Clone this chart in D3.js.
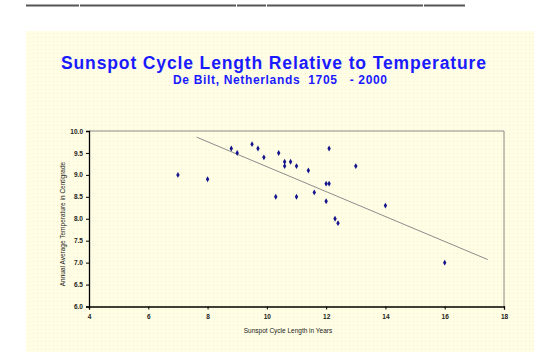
<!DOCTYPE html>
<html>
<head>
<meta charset="utf-8">
<script src="https://cdn.jsdelivr.net/npm/d3@7"></script>
<style>
body { margin: 0; background: #fff; }
svg { display: block; font-family: "Liberation Sans", Arial, sans-serif; }
</style>
</head>
<body>
<div id="chart"></div>
<script>
var width = 554,
	height = 361;

// cycle length (years) vs annual mean temperature (C)
var cycleLength = [7.0, 8.0, 8.8, 9.0, 9.5, 9.7, 9.9, 10.3, 10.4, 10.6, 10.6, 10.8, 11.0, 11.0,
	11.4, 11.6, 12.0, 12.1, 12.1, 12.0, 12.3, 12.4, 13.0, 14.0, 16.0];
var temperature = [9.0, 8.9, 9.6, 9.5, 9.7, 9.6, 9.4, 8.5, 9.5, 9.3, 9.2, 9.3, 9.2, 8.5,
	9.1, 8.6, 8.8, 8.8, 9.6, 8.4, 8.0, 7.9, 9.2, 8.3, 7.0];

// trendline as drawn in the original (ends)
var trendX = [7.63, 17.45];
var trendY = [9.86, 7.07];

var xTicks = [4, 6, 8, 10, 12, 14, 16, 18];
var yTicks = [6.0, 6.5, 7.0, 7.5, 8.0, 8.5, 9.0, 9.5, 10.0];

var titleText = "Sunspot Cycle Length Relative to Temperature";
var subText = "De Bilt, Netherlands  1705   - 2000";

var svg = d3.select("#chart")
	.append("svg")
	.attr("width", width)
	.attr("height", height);

// dotted paper texture
var pat = svg.append("defs").append("pattern")
	.attr("id", "dots")
	.attr("width", 4)
	.attr("height", 4)
	.attr("patternUnits", "userSpaceOnUse");
pat.append("rect").attr("width", 4).attr("height", 4).attr("fill", "#fffde3");
pat.append("rect").attr("x", 1).attr("y", 1).attr("width", 1).attr("height", 1).attr("fill", "#f3efd3");

// rule at the very top
var ruleBreaks = [25, 79, 236, 266, 423, 465];
for (var i = 0; i < ruleBreaks.length - 1; i++) {
	svg.append("line")
		.attr("x1", ruleBreaks[i] + 1)
		.attr("x2", ruleBreaks[i + 1])
		.attr("y1", 5.5)
		.attr("y2", 5.5)
		.attr("stroke", "#555")
		.attr("stroke-width", 2);
}

svg.append("rect")
	.attr("x", 26)
	.attr("y", 31)
	.attr("width", 508)
	.attr("height", 321)
	.attr("fill", "url(#dots)");

svg.append("text")
	.attr("x", 273.5)
	.attr("y", 69)
	.attr("text-anchor", "middle")
	.attr("font-size", 17.5)
	.attr("font-weight", "bold")
	.attr("fill", "#1a1aff")
	.attr("textLength", 425)
	.text(titleText);

svg.append("text")
	.attr("x", 280)
	.attr("y", 84)
	.attr("text-anchor", "middle")
	.attr("font-size", 12)
	.attr("font-weight", "bold")
	.attr("fill", "#1a1aff")
	.attr("textLength", 214)
	.style("white-space", "pre")
	.text(subText);

var plotLeft = 89, plotRight = 504, plotTop = 131, plotBottom = 306.5;

var x = d3.scaleLinear().domain([4, 18]).range([plotLeft, plotRight]);
var y = d3.scaleLinear().domain([6, 10]).range([plotBottom, plotTop]);

// plot area frame (grey top & right)
svg.append("path")
	.attr("d", "M" + plotLeft + "," + plotTop + "H" + plotRight + "V" + plotBottom)
	.attr("fill", "none")
	.attr("stroke", "#8a8a8a")
	.attr("stroke-width", 1);

var xAxis = svg.append("g")
	.attr("transform", "translate(0," + plotBottom + ")")
	.call(d3.axisBottom(x).tickValues(xTicks).tickSize(3).tickPadding(5).tickFormat(d3.format("d")));

var yAxis = svg.append("g")
	.attr("transform", "translate(" + plotLeft + ",0)")
	.call(d3.axisLeft(y).tickValues(yTicks).tickSize(3).tickPadding(3).tickFormat(d3.format(".1f")));

[xAxis, yAxis].forEach(function(g) {
	g.select(".domain").attr("stroke", "#000").attr("stroke-width", 1.3);
	g.selectAll(".tick line").attr("stroke", "#000");
	g.selectAll("text")
		.attr("font-family", "\"Liberation Sans\", Arial, sans-serif")
		.attr("font-size", 6.5)
		.attr("font-weight", "bold")
		.attr("fill", "#222");
});

svg.append("text")
	.attr("x", 288)
	.attr("y", 333)
	.attr("text-anchor", "middle")
	.attr("font-size", 6.5)
	.attr("fill", "#222")
	.text("Sunspot Cycle Length in Years");

svg.append("text")
	.attr("transform", "translate(65,224) rotate(-90)")
	.attr("text-anchor", "middle")
	.attr("font-size", 6.5)
	.attr("fill", "#222")
	.text("Annual Average Temperature in Centigrade");

// trendline
svg.append("line")
	.attr("x1", x(trendX[0]))
	.attr("y1", y(trendY[0]))
	.attr("x2", x(trendX[1]))
	.attr("y2", y(trendY[1]))
	.attr("stroke", "#8c8c8c")
	.attr("stroke-width", 1);

var pts = cycleLength.map(function(d, i) { return [d, temperature[i]]; });

svg.append("g")
	.selectAll("path")
	.data(pts)
	.enter()
	.append("path")
	.attr("transform", function(d) { return "translate(" + x(d[0]) + "," + y(d[1]) + ")"; })
	.attr("d", d3.symbol().type(d3.symbolDiamond).size(10))
	.attr("fill", "#14148c");
</script>
</body>
</html>
